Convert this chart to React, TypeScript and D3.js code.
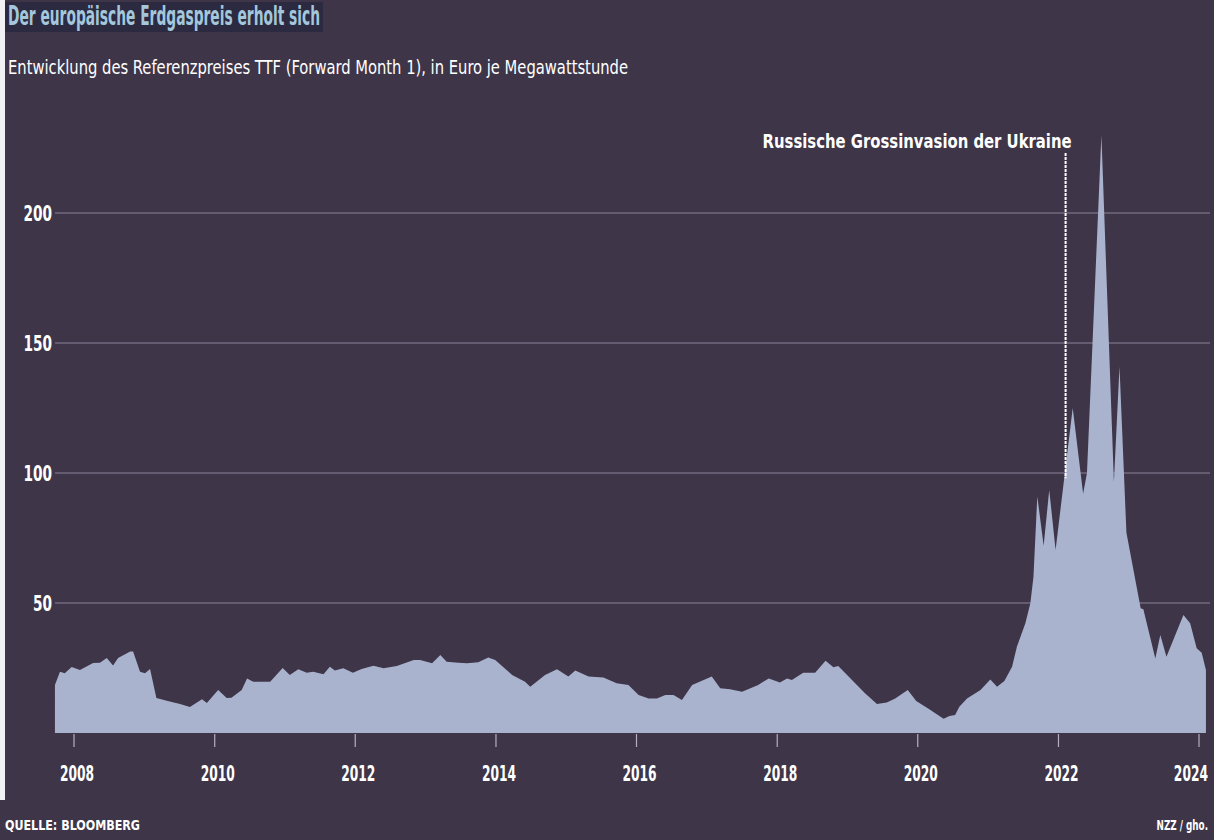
import * as d3 from "d3";

// TTF Forward Month 1, EUR/MWh
const dates = [
  "2007-09-24", "2007-10-20", "2007-11-14", "2007-12-20", "2008-02-01", "2008-04-09",
  "2008-05-15", "2008-06-19", "2008-07-22", "2008-08-17", "2008-10-19", "2008-11-03",
  "2008-12-09", "2009-01-04", "2009-01-30", "2009-03-04", "2009-04-27", "2009-07-05",
  "2009-08-25", "2009-10-27", "2009-11-21", "2010-01-19", "2010-03-04", "2010-03-29",
  "2010-05-21", "2010-06-18", "2010-07-20", "2010-10-16", "2010-12-20", "2011-01-26",
  "2011-03-11", "2011-04-24", "2011-05-27", "2011-07-20", "2011-08-22", "2011-09-17",
  "2011-10-31", "2011-12-20", "2012-02-03", "2012-04-05", "2012-05-27", "2012-08-04",
  "2012-10-31", "2012-12-03", "2013-02-03", "2013-03-18", "2013-04-20", "2013-06-21",
  "2013-08-04", "2013-10-01", "2013-11-22", "2013-12-28", "2014-03-26", "2014-06-01",
  "2014-06-28", "2014-09-13", "2014-11-14", "2015-01-12", "2015-02-17", "2015-04-27",
  "2015-07-13", "2015-09-20", "2015-11-20", "2016-01-12", "2016-03-04", "2016-04-16",
  "2016-05-30", "2016-07-11", "2016-08-24", "2016-10-16", "2016-12-06", "2017-01-26",
  "2017-03-11", "2017-05-01", "2017-07-02", "2017-08-15", "2017-09-24", "2017-11-18",
  "2018-01-15", "2018-02-21", "2018-03-18", "2018-05-16", "2018-07-17", "2018-09-09",
  "2018-10-20", "2018-11-14", "2019-02-10", "2019-04-02", "2019-06-03", "2019-07-24",
  "2019-09-06", "2019-11-10", "2019-12-24", "2020-02-28", "2020-05-14", "2020-06-14",
  "2020-07-13", "2020-08-04", "2020-09-13", "2020-11-22", "2021-01-12", "2021-02-16",
  "2021-03-26", "2021-05-05", "2021-05-30", "2021-07-13", "2021-08-08", "2021-08-24",
  "2021-09-13", "2021-10-16", "2021-11-14", "2021-12-17", "2022-01-26", "2022-03-16",
  "2022-05-09", "2022-05-29", "2022-08-12", "2022-10-16", "2022-11-14", "2022-12-20",
  "2023-03-04", "2023-03-18", "2023-05-19", "2023-06-14", "2023-07-16", "2023-10-12",
  "2023-11-16", "2023-12-20", "2024-01-15", "2024-02-06",
];

const values = [
  18.5, 23.6, 23.0, 25.4, 24.2, 26.9,
  27.0, 28.8, 26.0, 28.8, 31.3, 31.3,
  23.6, 23.0, 24.6, 13.5, 12.4, 11.2,
  10.0, 13.0, 11.5, 16.5, 13.5, 13.6,
  16.5, 21.0, 19.7, 19.7, 25.0, 22.3,
  24.5, 23.2, 23.6, 22.6, 25.5, 24.0,
  24.9, 23.2, 24.6, 25.9, 24.9, 25.8,
  28.1, 28.1, 26.8, 30.0, 27.4, 27.0,
  26.8, 27.2, 29.0, 28.1, 22.3, 19.7,
  17.8, 22.3, 24.5, 21.7, 24.0, 21.7,
  21.3, 19.1, 18.5, 14.6, 13.3, 13.3,
  14.6, 14.6, 12.7, 18.5, 20.1, 21.7,
  17.2, 16.8, 15.9, 17.2, 18.5, 21.0,
  19.4, 21.0, 20.4, 23.2, 23.2, 27.8,
  25.3, 25.8, 19.1, 15.3, 11.2, 11.7,
  13.3, 16.5, 12.3, 9.2, 5.5, 6.5,
  6.9, 10.1, 13.3, 16.5, 20.6, 17.8,
  20.0, 25.5, 33.2, 42.2, 49.9, 60.0,
  91.0, 72.0, 93.5, 70.4, 95.0, 125.0,
  92.0, 100.0, 230.0, 96.5, 141.0, 77.0,
  48.0, 47.6, 28.7, 37.7, 29.3, 45.4,
  42.2, 32.6, 30.9, 24.2,
];

const yTicks = [50, 100, 150, 200];
const xTickYears = [2008, 2010, 2012, 2014, 2016, 2018, 2020, 2022, 2024];

const annotationDate = "2022-02-07";
const annotationLabel = "Russische Grossinvasion der Ukraine";

const title = "Der europäische Erdgaspreis erholt sich";
const subtitle =
  "Entwicklung des Referenzpreises TTF (Forward Month 1), in Euro je Megawattstunde";
const source = "QUELLE: BLOOMBERG";
const credit = "NZZ / gho.";

const WIDTH = 1214;
const HEIGHT = 840;
const FONT = "'Liberation Sans Narrow', 'DejaVu Sans Condensed', 'Roboto', sans-serif";

const BG = "#3e3549";
const AREA = "#aab3cd";
const GRID = "#8a8399";

// squeeze text to the narrow width the original typeface had
const narrow = (len: number) => ({ textLength: len, lengthAdjust: "spacingAndGlyphs" });

export default function App() {
  const parse = d3.timeParse("%Y-%m-%d");
  const data = dates.map((d, i) => ({ date: parse(d) as Date, value: values[i] }));

  const x = d3
    .scaleTime()
    .domain([new Date(2008, 0, 1), new Date(2024, 0, 1)])
    .range([74, 1199]);

  const y = d3.scaleLinear().domain([0, 200]).range([733, 213]);

  const area = d3
    .area<{ date: Date; value: number }>()
    .x((d) => x(d.date))
    .y0(y(0))
    .y1((d) => y(d.value));

  const annX = x(parse(annotationDate) as Date);

  return (
    <svg
      width={WIDTH}
      height={HEIGHT}
      style={{ position: "absolute", left: 0, top: 0, display: "block" }}
      fontFamily={FONT}
    >
      <rect width={WIDTH} height={HEIGHT} fill={BG} />
      <rect x={0} y={0} width={5} height={800} fill="#f2f2f4" />

      {/* title */}
      <rect x={5} y={2} width={318} height={30} fill="#2c2a40" />
      <text x={8} y={25} fill="#a3c7dc" fontSize={26} fontWeight="bold" {...narrow(312)}>
        {title}
      </text>
      <text x={8} y={74} fill="#ffffff" fontSize={20} {...narrow(620)}>
        {subtitle}
      </text>

      {/* grid + y labels */}
      {yTicks.map((t) => (
        <g key={t}>
          <line x1={55} x2={1210} y1={y(t)} y2={y(t)} stroke={GRID} strokeWidth={1} />
          <text
            x={52 - String(t).length * 9.5}
            y={y(t)}
            dy="0.36em"
            fill="#ffffff"
            fontSize={21}
            fontWeight="bold"
            {...narrow(String(t).length * 9.5)}
          >
            {t}
          </text>
        </g>
      ))}

      {/* area */}
      <path d={area(data) ?? ""} fill={AREA} />

      {/* annotation */}
      <line
        x1={annX}
        x2={annX}
        y1={153}
        y2={y(98)}
        stroke="#ffffff"
        strokeWidth={2}
        strokeDasharray="3,1"
      />
      <text
        x={annX + 6 - 309}
        y={148}
        fill="#ffffff"
        fontSize={20}
        fontWeight="bold"
        {...narrow(309)}
      >
        {annotationLabel}
      </text>

      {/* x axis */}
      {xTickYears.map((yr, i) => {
        const tx = x(new Date(yr, 0, 1));
        const last = i === xTickYears.length - 1;
        return (
          <g key={yr}>
            <line x1={tx} x2={tx} y1={734} y2={747} stroke="#b5afc0" strokeWidth={1.2} />
            <g transform={`translate(${last ? 1208 : tx + 3},781) scale(0.65,1)`}>
              <text
                textAnchor={last ? "end" : "middle"}
                fill="#ffffff"
                fontSize={21}
                fontWeight="bold"
              >
                {yr}
              </text>
            </g>
          </g>
        );
      })}

      {/* footer */}
      <text x={5} y={830} fill="#ffffff" fontSize={14} fontWeight="bold" {...narrow(135)}>
        {source}
      </text>
      <g transform="translate(1208,830) scale(0.7,1)">
        <text textAnchor="end" fill="#ffffff" fontSize={14} fontWeight="bold">
          {credit}
        </text>
      </g>
    </svg>
  );
}
